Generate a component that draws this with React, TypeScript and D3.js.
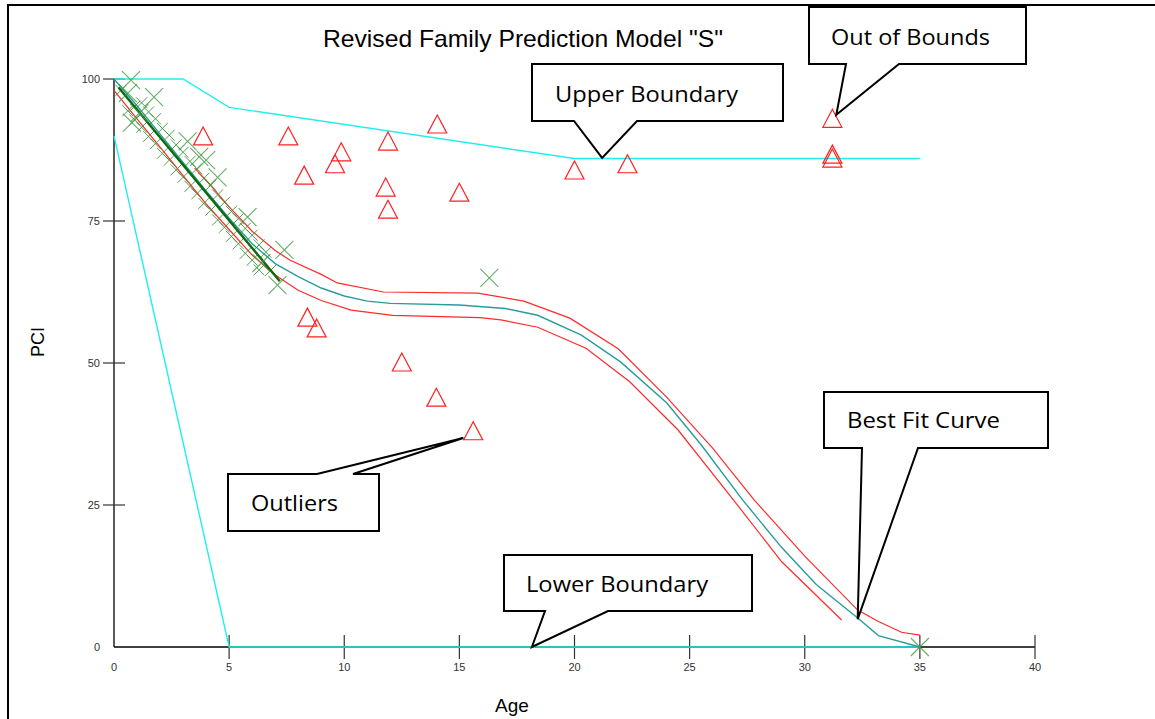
import React from "react";
import * as d3 from "d3";

// ---------- data ----------
const xTicks = [0, 5, 10, 15, 20, 25, 30, 35, 40];
const yTicks = [0, 25, 50, 75, 100];

const upperBoundAge = [0, 3, 5, 20, 35];
const upperBoundPci = [100, 100, 95, 86, 86];
const lowerBoundAge = [0, 5, 35];
const lowerBoundPci = [90, 0, 0];

const bestFitAge = [0, 1, 2, 3, 4, 5, 6, 7, 8, 9, 10, 11, 12, 15, 17, 18.4, 20.3, 22, 24, 25.5, 27.3, 29, 30.5, 32.3, 33.2, 35];
const bestFitPci = [100, 95.3, 90.3, 85.3, 80.3, 75.5, 71, 67.5, 65.2, 63.2, 61.8, 60.9, 60.5, 60.2, 59.6, 58.4, 54.9, 50.2, 43, 35.6, 25.9, 17.5, 11, 5.1, 2, 0];

const upperBandAge = [3.5, 4, 5, 6, 7, 7.65, 9, 9.7, 11.7, 15.8, 17.8, 19.8, 21.9, 24, 26, 27.8, 30, 32.3, 33.2, 34.2, 35];
const upperBandPci = [84.3, 82.2, 77.5, 73.2, 69.8, 68.1, 65.6, 64.1, 62.5, 62.3, 60.9, 57.9, 52.5, 44, 35, 25.9, 16, 6.5, 4.5, 2.6, 2.1];

const lowerBandAge = [0, 1, 2, 3, 4, 5, 6, 7, 8, 9, 10.3, 12.1, 15.9, 16.8, 18.4, 20.5, 22.4, 24.5, 26.9, 29, 31.6];
const lowerBandPci = [98, 93, 88, 83, 78, 73.5, 69, 65.5, 62.8, 61, 59.3, 58.4, 58.0, 57.6, 56.3, 52.6, 46.7, 38.2, 25.9, 15, 4.75];

const denseTrendAge = [0.2, 7.2];
const denseTrendPci = [98.5, 64.4];

const bigXAge = [0.74, 0.6, 1.74, 0.78, 1.1, 3.2, 3.7, 4.0, 4.5, 5.8, 7.4, 6.4, 7.1, 16.3, 35];
const bigXPci = [99.8, 97.5, 96.8, 92.3, 94.0, 89.0, 86.3, 85.7, 82.7, 75.7, 69.9, 67.6, 63.7, 65, 0];

const smallXAge = [
  0.3, 0.9, 1.2, 1.5, 1.8, 2.1, 2.4, 2.7, 3.0, 3.3, 3.6, 3.9, 4.2, 4.5, 4.8, 5.1, 5.4, 5.7, 6.0, 6.3, 6.6, 6.8,
  0.6, 0.9, 1.2, 1.5, 1.8, 2.1, 2.4, 2.7, 3.0, 3.3, 3.6, 3.9, 4.2, 4.5, 4.8, 5.1, 5.4, 5.7, 6.0, 6.3,
];
const smallXPci = [
  98.0, 95.2, 95.8, 94.2, 93.0, 91.3, 90.1, 88.4, 87.1, 85.5, 84.2, 82.5, 81.3, 79.6, 78.3, 76.7, 75.4, 73.7, 72.5, 70.8, 69.5, 66.3,
  94.4, 92.8, 91.5, 89.9, 88.6, 86.9, 85.7, 84.0, 82.7, 81.1, 79.8, 78.1, 76.9, 75.2, 73.9, 72.3, 71.0, 69.3, 68.1, 66.4,
];

const outlierAge = [3.87, 7.57, 8.26, 9.87, 9.6, 11.9, 14.04, 11.8, 11.9, 15.0, 8.4, 8.8, 12.5, 14.0, 15.6, 20.0, 22.3, 31.2, 31.2, 31.2];
const outlierPci = [89.8, 89.8, 82.9, 87.0, 84.9, 88.9, 91.9, 80.8, 76.9, 79.9, 57.9, 56.0, 50.0, 43.8, 37.9, 83.8, 84.9, 92.9, 86.6, 85.9];

const calloutTexts = ["Out of Bounds", "Upper Boundary", "Best Fit Curve", "Lower Boundary", "Outliers"];
const calloutTipAge = [31.37, 21.2, 32.3, 18.15, 15.17];
const calloutTipPci = [93.7, 86.1, 4.9, 0, 36.8];

// ---------- layout ----------
const W = 1155;
const H = 719;
const x = d3.scaleLinear().domain([0, 40]).range([114, 1035]);
const y = d3.scaleLinear().domain([0, 100]).range([647, 79]);

// box: [left, top, right, bottom], tail base left/right x, tail side, text x, baseline, text width
const calloutBoxes = [
  { box: [809, 7, 1026, 64], tl: 846, tr: 899, side: "bottom", tx: 831, ty: 45, tw: 159 },
  { box: [532, 64, 783, 121], tl: 574, tr: 637, side: "bottom", tx: 555, ty: 102, tw: 183 },
  { box: [824, 392, 1048, 448], tl: 862, tr: 918, side: "bottom", tx: 847, ty: 428, tw: 153 },
  { box: [504, 555, 752, 611], tl: 545, tr: 608, side: "bottom", tx: 526, ty: 592, tw: 182 },
  { box: [228, 474, 379, 531], tl: 317, tr: 353, side: "top", tx: 251, ty: 511, tw: 87 },
];

const zip = (a: number[], b: number[]) => a.map((v, i) => [v, b[i]] as [number, number]);
const line = d3
  .line<[number, number]>()
  .x((d) => x(d[0]))
  .y((d) => y(d[1]));

const xPath = (h: number) => `M${-h},${-h}L${h},${h}M${-h},${h}L${h},${-h}`;

export default function App() {
  const sans = "'Liberation Sans', Arial, sans-serif";
  const calFont = "'Open Sans', 'Noto Sans', sans-serif";
  return (
    <svg
      width={W}
      height={H}
      style={{ position: "absolute", left: 0, top: 0, background: "#fff" }}
    >
      <rect x={0} y={0} width={W} height={H} fill="#fff" />
      {/* frame */}
      <rect x={8} y={5} width={1200} height={760} fill="none" stroke="#000" strokeWidth={2} />

      {/* title */}
      <text x={523} y={47} textAnchor="middle" fontFamily={sans} fontSize={24} fill="#000" textLength={400} lengthAdjust="spacingAndGlyphs">
        Revised Family Prediction Model "S"
      </text>

      {/* axes */}
      <line x1={x(0)} x2={x(0)} y1={y(0)} y2={y(100)} stroke="#000" strokeWidth={1.3} />
      <line x1={x(0)} x2={x(40)} y1={y(0)} y2={y(0)} stroke="#000" strokeWidth={1.3} />
      {xTicks.map((t) => (
        <g key={"xt" + t}>
          {t > 0 && <line x1={x(t)} x2={x(t)} y1={y(0) - 12} y2={y(0) + 12} stroke="#333" strokeWidth={1.2} />}
          <text x={x(t)} y={y(0) + 24} textAnchor="middle" fontFamily={sans} fontSize={11} fill="#333">
            {t}
          </text>
        </g>
      ))}
      {yTicks.map((t) => (
        <g key={"yt" + t}>
          {t > 0 && <line x1={x(0) - 11} x2={x(0) + 11} y1={y(t)} y2={y(t)} stroke="#333" strokeWidth={1.2} />}
          <text x={x(0) - 14} y={y(t) + 4} textAnchor="end" fontFamily={sans} fontSize={11} fill="#333">
            {t}
          </text>
        </g>
      ))}
      <text x={512} y={712} textAnchor="middle" fontFamily={sans} fontSize={19} fill="#000">
        Age
      </text>
      <text transform="translate(44,342) rotate(-90)" textAnchor="middle" fontFamily={sans} fontSize={18} fill="#000">
        PCI
      </text>

      {/* boundaries */}
      <path d={line(zip(upperBoundAge, upperBoundPci)) || ""} fill="none" stroke="#22eeee" strokeWidth={1.4} />
      <path d={line(zip(lowerBoundAge, lowerBoundPci)) || ""} fill="none" stroke="#22eeee" strokeWidth={1.4} />

      {/* bands and best fit */}
      <path d={line(zip(upperBandAge, upperBandPci)) || ""} fill="none" stroke="#ff2a2a" strokeWidth={1.2} />
      <path d={line(zip(lowerBandAge, lowerBandPci)) || ""} fill="none" stroke="#ff2a2a" strokeWidth={1.2} />
      <path d={line(zip(bestFitAge, bestFitPci)) || ""} fill="none" stroke="#2b9c9c" strokeWidth={1.4} />

      {/* data X markers */}
      {zip(smallXAge, smallXPci).map((d, i) => (
        <path key={"sx" + i} d={xPath(5.5)} transform={`translate(${x(d[0])},${y(d[1])})`} stroke="#2f8f2f" strokeOpacity={0.85} strokeWidth={1} fill="none" />
      ))}
      <path d={line(zip(denseTrendAge, denseTrendPci)) || ""} fill="none" stroke="#0b6a0b" strokeWidth={2.4} />
      {zip(bigXAge, bigXPci).map((d, i) => (
        <path key={"bx" + i} d={xPath(9)} transform={`translate(${x(d[0])},${y(d[1])})`} stroke="#3f9a3f" strokeOpacity={0.8} strokeWidth={1.1} fill="none" />
      ))}

      {/* outliers */}
      {zip(outlierAge, outlierPci).map((d, i) => (
        <path key={"tr" + i} d="M0,-10L9.5,8L-9.5,8Z" transform={`translate(${x(d[0])},${y(d[1])})`} stroke="#ff2020" strokeWidth={1.2} fill="none" />
      ))}

      {/* callouts */}
      {calloutTexts.map((txt, i) => {
        const c = calloutBoxes[i];
        const [l, t, r, b] = c.box;
        const tipX = x(calloutTipAge[i]);
        const tipY = y(calloutTipPci[i]);
        const d =
          c.side === "top"
            ? `M${l},${t}H${c.tl}L${tipX},${tipY}L${c.tr},${t}H${r}V${b}H${l}Z`
            : `M${l},${t}H${r}V${b}H${c.tr}L${tipX},${tipY}L${c.tl},${b}H${l}Z`;
        return (
          <g key={"co" + i}>
            <path d={d} fill="#fff" stroke="#000" strokeWidth={2} strokeLinejoin="miter" />
            <text x={c.tx} y={c.ty} fontFamily={calFont} fontSize={22} fill="#000" textLength={c.tw} lengthAdjust="spacingAndGlyphs">
              {txt}
            </text>
          </g>
        );
      })}
    </svg>
  );
}
